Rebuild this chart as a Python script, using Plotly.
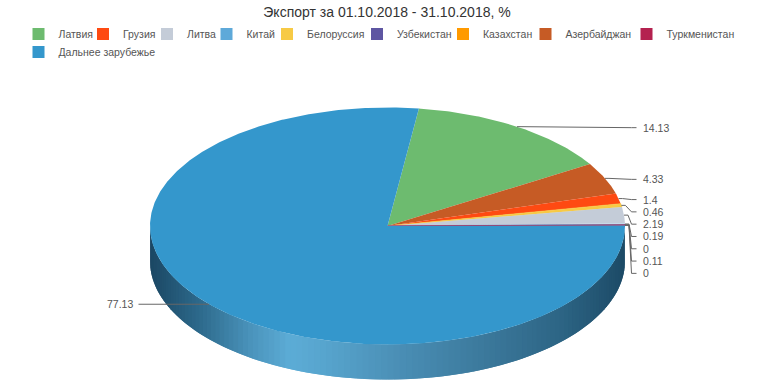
import numpy as np
import plotly.graph_objects as go

# ---- data ----
slice_names = ["Латвия", "Азербайджан", "Грузия", "Белоруссия", "Литва",
               "Китай", "Узбекистан", "Туркменистан", "Казахстан", "Дальнее зарубежье"]
slice_values = [14.13, 4.33, 1.4, 0.46, 2.19, 0.19, 0, 0.11, 0, 77.13]
legend_names = ["Латвия", "Грузия", "Литва", "Китай", "Белоруссия", "Узбекистан",
                "Казахстан", "Азербайджан", "Туркменистан", "Дальнее зарубежье"]
title_text = "Экспорт за 01.10.2018 - 31.10.2018, %"

colors = {
    "Латвия": "#6dbb6f", "Грузия": "#fe4a12", "Литва": "#c4ccd8", "Китай": "#5ea9d9",
    "Белоруссия": "#f7ca45", "Узбекистан": "#5e56a2", "Казахстан": "#ff9a00",
    "Азербайджан": "#c65b25", "Туркменистан": "#b4214f", "Дальнее зарубежье": "#3497cc",
}

# ---- page / geometry (page pixels) ----
W, H = 774, 387
CX, CY, RX, RY, DEPTH = 387.5, 226.0, 237.5, 118.5, 35.0
START = 7.6  # degrees, clockwise from 12 o'clock

def ell(theta, dy=0.0):
    t = np.radians(theta)
    return CX + RX * np.sin(t), CY - RY * np.cos(t) + dy

def px2paper_x(px):
    return px / W

def px2paper_y(py):
    return 1 - py / H

total = sum(slice_values)
angles = [START]
for v in slice_values:
    angles.append(angles[-1] + 360.0 * v / total)

fig = go.Figure()

# side wall gradient
grad_x = [150, 200, 250, 290, 330, 400, 480, 560, 626]
grad_c = ["#1b4763", "#2d6a8c", "#4a93bb", "#5cacd6", "#56a3cc", "#4a8eb5",
          "#3c7a9d", "#2d6585", "#1c4a66"]

def hex2rgb(h):
    return np.array([int(h[i:i + 2], 16) for i in (1, 3, 5)], dtype=float)

GRAD_RGB = np.array([hex2rgb(c) for c in grad_c])

def grad(x):
    r = [np.interp(x, grad_x, GRAD_RGB[:, k]) for k in range(3)]
    return "rgb(%d,%d,%d)" % tuple(int(round(v)) for v in r)

for i, name in enumerate(slice_names):
    a0, a1 = angles[i], angles[i + 1]
    lo, hi = max(a0, 90.0), min(a1, 270.0)
    if hi <= lo:
        continue
    n = 120
    edges = np.linspace(lo, hi, n + 1)
    for k in range(n):
        e1 = edges[min(k + 2, n)]
        th = np.linspace(edges[k], e1, 5)
        xt, yt = ell(th)
        xb, yb = ell(th[::-1], DEPTH)
        xs = np.concatenate([xt, xb])
        ys = np.concatenate([yt, yb])
        col = grad(float(ell((edges[k] + edges[k + 1]) / 2)[0]))
        fig.add_trace(go.Scatter(x=xs, y=ys, fill="toself", fillcolor=col, mode="lines",
                                 line=dict(width=0), hoverinfo="skip", showlegend=False))

# top faces
for i, name in enumerate(slice_names):
    a0, a1 = angles[i], angles[i + 1]
    if a1 - a0 <= 0:
        continue
    th = np.linspace(a0, a1, max(3, int((a1 - a0) * 2) + 2))
    xe, ye = ell(th)
    xs = np.concatenate([[CX], xe, [CX]])
    ys = np.concatenate([[CY], ye, [CY]])
    c = colors[name]
    fig.add_trace(go.Scatter(x=xs, y=ys, fill="toself", fillcolor=c, mode="lines",
                             line=dict(color=c, width=0.6 if (a1 - a0) < 2 else 0),
                             name=name, hoverinfo="name", showlegend=False))

# data labels + connectors
LABEL_R = CX + RX + 15.5
LABEL_L = CX - RX - 15.5
right_items, left_items = [], []
for i, name in enumerate(slice_names):
    mid = (angles[i] + angles[i + 1]) / 2
    ex, ey = ell(mid)
    item = dict(v=slice_values[i], ex=float(ex), ey=float(ey), y=float(ey))
    (right_items if (mid % 360) < 180 else left_items).append(item)

SP = 12.3
prev = -1e9
for it in right_items:
    it["y"] = max(it["ey"], prev + SP)
    prev = it["y"]

LBL_FONT = dict(size=10.5, color="#555555", family="Liberation Sans, Arial, sans-serif")
annotations = []
for it in right_items:
    yl = it["y"] + 1.0
    xs = [it["ex"], it["ex"] + 4, LABEL_R - 9, LABEL_R - 4]
    ys = [it["ey"], it["ey"], yl, yl]
    fig.add_trace(go.Scatter(x=xs, y=ys, mode="lines", line=dict(color="#666666", width=1),
                             hoverinfo="skip", showlegend=False))
    annotations.append(dict(x=LABEL_R, y=yl, text=f"{it['v']:g}", xanchor="left",
                            yanchor="middle", showarrow=False, xref="x", yref="y",
                            font=LBL_FONT))
for it in left_items:
    yl = it["y"]
    xs = [it["ex"], it["ex"] - 4, LABEL_L + 4]
    ys = [it["ey"], yl, yl]
    fig.add_trace(go.Scatter(x=xs, y=ys, mode="lines", line=dict(color="#666666", width=1),
                             hoverinfo="skip", showlegend=False))
    annotations.append(dict(x=LABEL_L, y=yl, text=f"{it['v']:g}", xanchor="right",
                            yanchor="middle", showarrow=False, xref="x", yref="y",
                            font=LBL_FONT))

# legend: one legend per entry to reproduce the flowing layout
leg_text_x = [56.5, 121, 185, 244.5, 305, 395, 481, 563.5, 664.5, 56.5]
leg_row_y = [34, 34, 34, 34, 34, 34, 34, 34, 34, 52]
layout_legends = {}
for i, name in enumerate(legend_names):
    key = "legend" if i == 0 else f"legend{i + 1}"
    fig.add_trace(go.Scatter(x=[None], y=[None], mode="markers", name=name,
                             marker=dict(symbol="square", size=12, color=colors[name]),
                             legend=key, showlegend=True))
    layout_legends[key] = dict(x=px2paper_x(leg_text_x[i] - 38), y=px2paper_y(leg_row_y[i]),
                               xanchor="left", yanchor="middle", xref="paper", yref="paper",
                               bgcolor="rgba(0,0,0,0)", borderwidth=0,
                               font=dict(size=10.5, color="#555555",
                                         family="Liberation Sans, Arial, sans-serif"))

fig.update_layout(
    width=W, height=H, margin=dict(l=0, r=0, t=0, b=0, autoexpand=False),
    paper_bgcolor="white", plot_bgcolor="white",
    font=dict(family="Liberation Sans, Arial, sans-serif"),
    title=dict(text=title_text, x=px2paper_x(387), xanchor="center",
               y=px2paper_y(12.5), yanchor="middle",
               font=dict(size=14, color="#333333")),
    xaxis=dict(range=[0, W], visible=False, fixedrange=True),
    yaxis=dict(range=[H, 0], visible=False, fixedrange=True),
    annotations=annotations,
    **layout_legends,
)

fig.write_html("out.html", config={"displayModeBar": False},
               post_script="document.body.style.margin='0';document.body.style.overflow='hidden';")
